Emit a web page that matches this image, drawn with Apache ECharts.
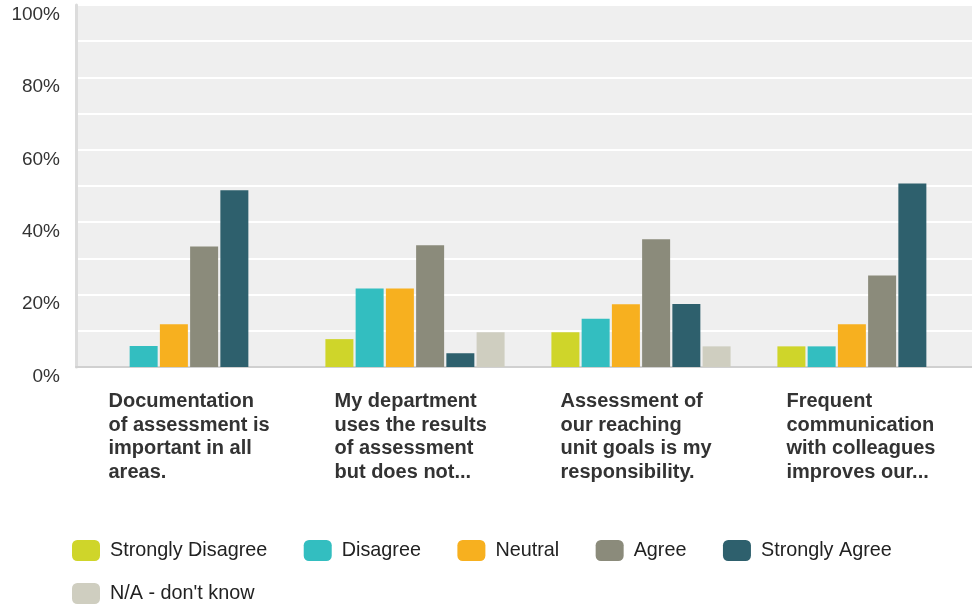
<!DOCTYPE html>
<html>
<head>
<meta charset="utf-8">
<script src="https://cdn.jsdelivr.net/npm/echarts@6/dist/echarts.min.js"></script>
<style>
  html, body { margin: 0; padding: 0; background: #fff; overflow: hidden; }
  /* plot area runs a little past the right edge, as in the original export */
  #viz { width: 980px; height: 604px; }
</style>
</head>
<body>
<div id="viz"></div>
<script>
// questions (already cut off as in the survey export)
var categories = [
    'Documentation\nof assessment is\nimportant in all\nareas.',
    'My department\nuses the results\nof assessment\nbut does not...',
    'Assessment of\nour reaching\nunit goals is my\nresponsibility.',
    'Frequent\ncommunication\nwith colleagues\nimproves our...'
];

var answerNames = ['Strongly Disagree', 'Disagree', 'Neutral', 'Agree', 'Strongly Agree', "N/A - don't know"];
var answerColors = ['#cfd52a', '#33bec0', '#f7b01f', '#8b8b7b', '#2e606d', '#cfcec0'];

// percent per question
var stronglyDisagree = [0, 7.7, 9.6, 5.7];
var disagree = [5.8, 21.7, 13.3, 5.7];
var neutral = [11.8, 21.7, 17.3, 11.8];
var agree = [33.3, 33.6, 35.3, 25.3];
var stronglyAgree = [48.8, 3.8, 17.4, 50.7];
var notKnown = [0, 9.6, 5.7, 0];

var yTicks = [0, 20, 40, 60, 80, 100];

var seriesValues = [stronglyDisagree, disagree, neutral, agree, stronglyAgree, notKnown];

var myChart = echarts.init(document.getElementById('viz'));

var legendText = { fontSize: 19.8, color: '#222', padding: [0, 0, 0, 5] };

myChart.setOption({
    animation: false,
    textStyle: { fontFamily: '"Liberation Sans", Arial, sans-serif' },
    grid: {
        left: 76,
        top: 5,
        right: 0,
        height: 362,
        show: true,
        backgroundColor: '#efefef',
        borderWidth: 0
    },
    legend: [{
        data: answerNames.slice(0, 5),
        left: 72,
        top: 540,
        padding: 0,
        itemGap: 36.5,
        itemWidth: 28,
        itemHeight: 21,
        icon: 'roundRect',
        textStyle: legendText
    }, {
        data: answerNames.slice(5),
        left: 72,
        top: 583,
        padding: 0,
        itemWidth: 28,
        itemHeight: 21,
        icon: 'roundRect',
        textStyle: legendText
    }],
    xAxis: {
        type: 'category',
        data: categories,
        axisTick: { show: false },
        axisLine: { lineStyle: { color: '#d0d0d0', width: 2 } },
        axisLabel: {
            margin: 23,
            formatter: function (value) {
                return value.split('\n').map(function (l) { return '{l|' + l + '}'; }).join('\n');
            },
            rich: {
                l: {
                    width: 161,
                    align: 'left',
                    fontSize: 20,
                    fontWeight: 'bold',
                    color: '#333',
                    lineHeight: 23.5
                }
            }
        }
    },
    yAxis: {
        type: 'value',
        min: yTicks[0],
        max: yTicks[yTicks.length - 1],
        interval: 20,
        axisLine: { show: true, lineStyle: { color: '#dcdcdc', width: 3 } },
        axisTick: { show: false },
        axisLabel: {
            formatter: '{value}%',
            fontSize: 19,
            color: '#333',
            margin: 16,
            verticalAlign: 'top'
        },
        splitLine: { lineStyle: { color: '#ffffff', width: 2 } },
        minorTick: { show: false, splitNumber: 2 },
        minorSplitLine: { show: true, lineStyle: { color: '#ffffff', width: 2 } }
    },
    series: seriesValues.map(function (vals, i) {
        return {
            name: answerNames[i],
            type: 'bar',
            data: vals,
            barWidth: 28,
            barGap: '8%',
            itemStyle: { color: answerColors[i] }
        };
    })
});
</script>
</body>
</html>
